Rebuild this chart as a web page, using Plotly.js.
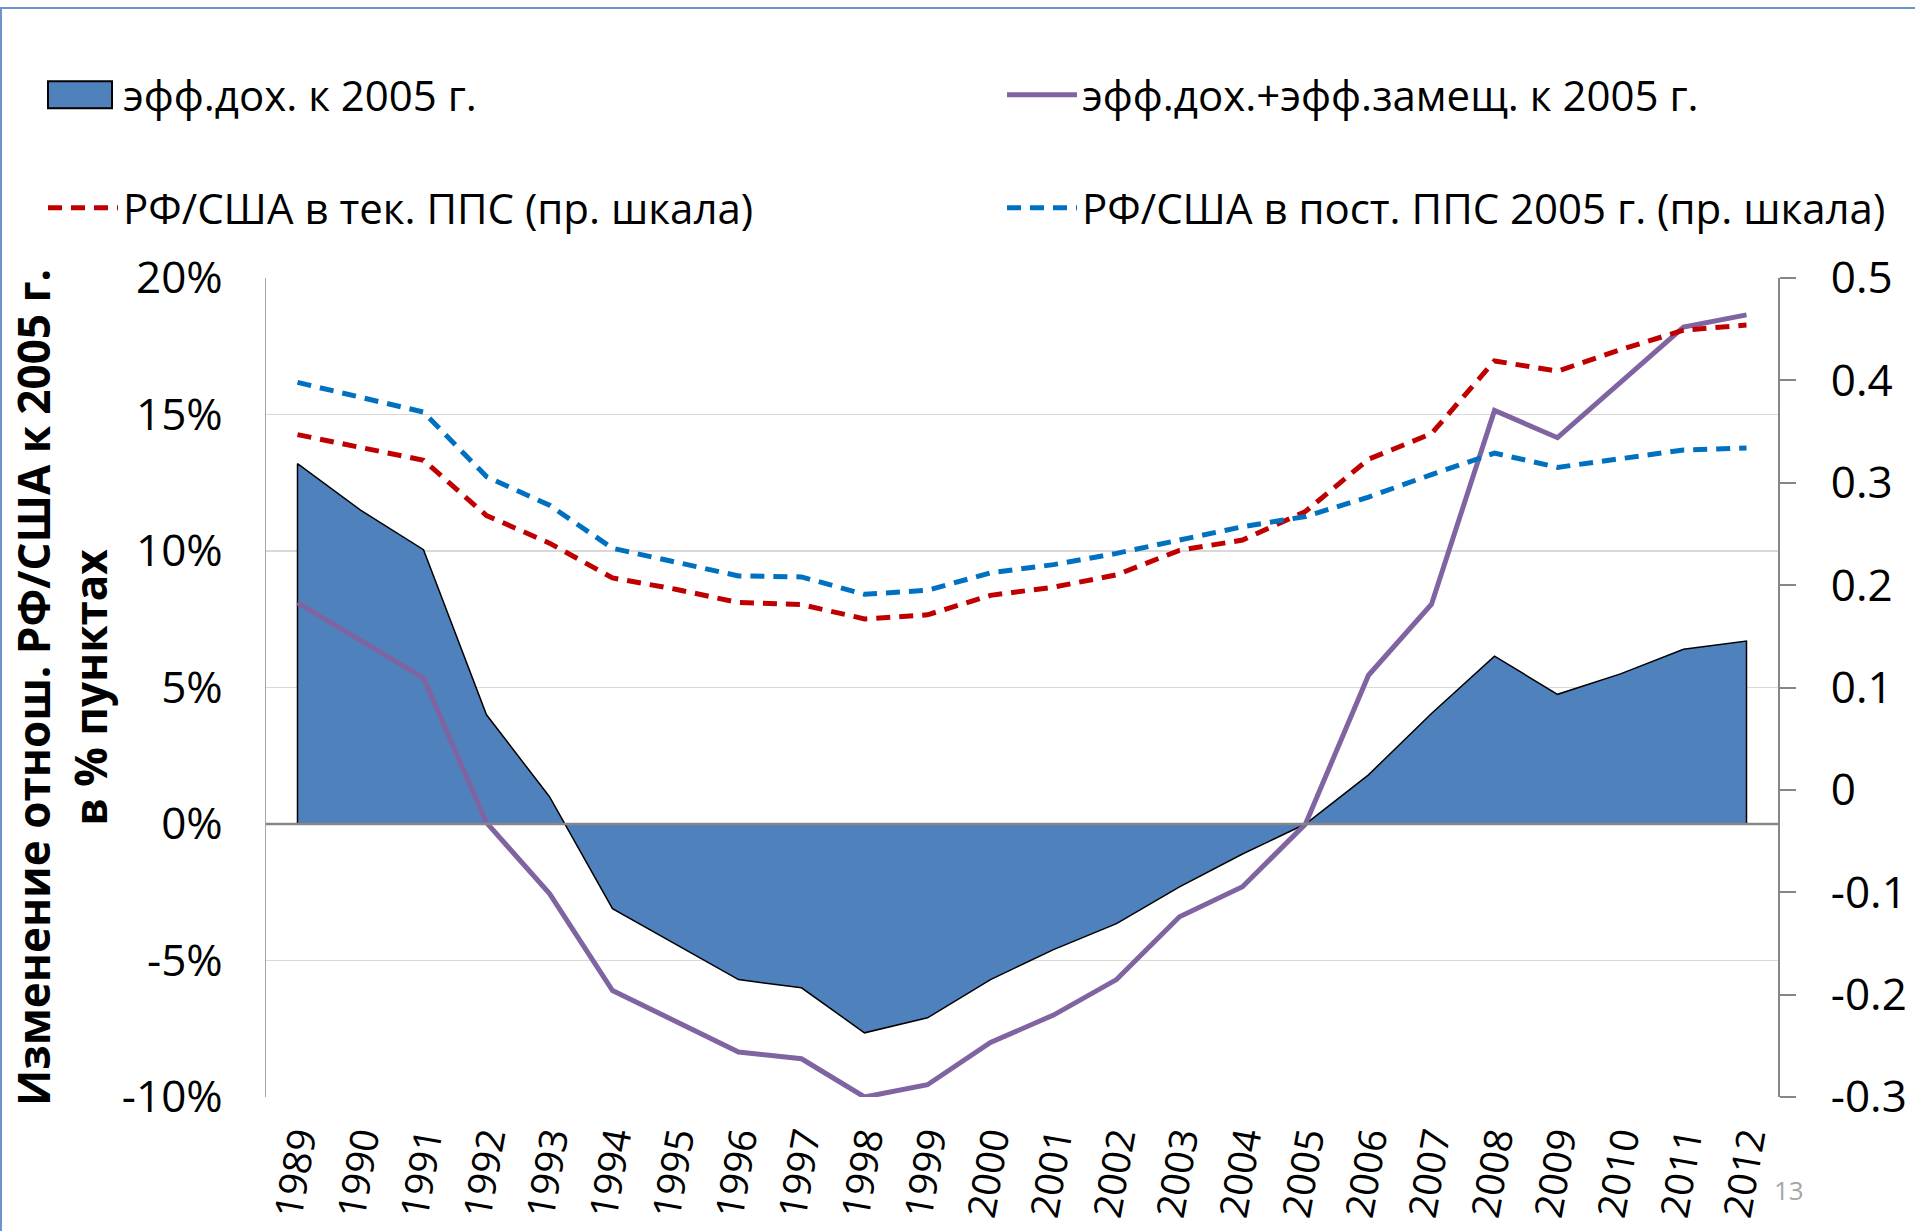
<!DOCTYPE html>
<html>
<head>
<meta charset="utf-8">
<script src="https://cdn.plot.ly/plotly-3.0.1.min.js"></script>
<style>
  html, body { margin: 0; padding: 0; background: #fff; overflow: hidden; }
  #wrap { position: relative; width: 1915px; height: 1231px; }
  #chart { position: absolute; left: 0; top: 0; width: 1915px; height: 1231px; }
  #frame { position: absolute; left: 0; top: 7px; width: 1915px; height: 1224px;
           border-top: 2px solid #6a95cc; border-left: 2px solid #6a95cc; box-sizing: border-box; pointer-events: none; }
</style>
</head>
<body>
<div id="wrap"><div id="chart"></div><div id="frame"></div></div>
<script>
// ---- data ----
const years = [1989, 1990, 1991, 1992, 1993, 1994, 1995, 1996, 1997, 1998, 1999, 2000,
               2001, 2002, 2003, 2004, 2005, 2006, 2007, 2008, 2009, 2010, 2011, 2012];
const yearLabels = years.map(String);

// эфф.дох. к 2005 г. (left axis, % points)
const incomeEffect = [13.2, 11.5, 10.05, 4.0, 1.0, -3.1, -4.4, -5.7, -6.0, -7.65, -7.1, -5.7,
                      -4.6, -3.65, -2.3, -1.1, 0.0, 1.8, 4.05, 6.15, 4.75, 5.5, 6.4, 6.7];
// эфф.дох.+эфф.замещ. к 2005 г. (left axis, % points)
const incomeSubstEffect = [8.1, 6.7, 5.35, 0.05, -2.55, -6.1, -7.2, -8.35, -8.6, -10.0, -9.55, -8.0,
                           -7.0, -5.7, -3.4, -2.3, 0.0, 5.45, 8.05, 15.15, 14.15, 16.2, 18.2, 18.65];
// РФ/США в тек. ППС (right axis)
const ruUsCurrentPPP = [0.347, 0.334, 0.322, 0.268, 0.241, 0.207, 0.196, 0.183, 0.181, 0.167, 0.171, 0.190,
                        0.198, 0.210, 0.234, 0.244, 0.272, 0.323, 0.348, 0.419, 0.409, 0.430, 0.449, 0.454];
// РФ/США в пост. ППС 2005 г. (right axis)
const ruUsConstPPP = [0.398, 0.384, 0.369, 0.306, 0.278, 0.236, 0.222, 0.209, 0.208, 0.191, 0.195, 0.212,
                      0.220, 0.231, 0.244, 0.257, 0.267, 0.286, 0.308, 0.329, 0.315, 0.323, 0.332, 0.334];

const leftTickVals = [-10, -5, 0, 5, 10, 15, 20];
const leftTickText = ['-10%', '-5%', '0%', '5%', '10%', '15%', '20%'];
const rightTickVals = [-0.3, -0.2, -0.1, 0, 0.1, 0.2, 0.3, 0.4, 0.5];
const rightTickText = ['-0.3', '-0.2', '-0.1', '0', '0.1', '0.2', '0.3', '0.4', '0.5'];

const seriesNames = ['эфф.дох. к 2005 г.', 'эфф.дох.+эфф.замещ. к 2005 г.',
                     'РФ/США в тек. ППС (пр. шкала)', 'РФ/США в пост. ППС 2005 г. (пр. шкала)'];

// ---- build traces ----
const FONT = 'Open Sans, Noto Sans, sans-serif';
const AREA_COLOR = '#4f81bd';
const first = years[0], last = years[years.length - 1];
const areaX = [first].concat(years, [last]);
const areaY = [0].concat(incomeEffect, [0]);

const traces = [
  { x: areaX, y: areaY, name: seriesNames[0], type: 'scatter', mode: 'lines',
    fill: 'toself', fillcolor: AREA_COLOR, line: { color: '#000000', width: 1.5 },
    legend: 'legend', hoverinfo: 'skip' },
  { x: years, y: incomeSubstEffect, name: seriesNames[1], type: 'scatter', mode: 'lines',
    line: { color: '#8064a2', width: 5 }, legend: 'legend2', hoverinfo: 'skip' },
  { x: years, y: ruUsCurrentPPP, name: seriesNames[2], type: 'scatter', mode: 'lines', yaxis: 'y2',
    line: { color: '#c00000', width: 5, dash: '14px,9px' }, legend: 'legend3', hoverinfo: 'skip' },
  { x: years, y: ruUsConstPPP, name: seriesNames[3], type: 'scatter', mode: 'lines', yaxis: 'y2',
    line: { color: '#0070c0', width: 5, dash: '14px,9px' }, legend: 'legend4', hoverinfo: 'skip' }
];

function legendAt(xpx, ypx) {
  return {
    orientation: 'h', xref: 'container', yref: 'container', xanchor: 'left', yanchor: 'middle',
    x: xpx / 1915, y: 1 - ypx / 1231,
    font: { family: FONT, size: 42, color: '#000' }, itemwidth: 70,
    bgcolor: 'rgba(0,0,0,0)', borderwidth: 0, traceorder: 'normal'
  };
}

const layout = {
  width: 1915, height: 1231,
  margin: { l: 266, r: 137, t: 278, b: 134, pad: 0 },
  paper_bgcolor: '#ffffff', plot_bgcolor: '#ffffff',
  font: { family: FONT, color: '#000' },
  showlegend: true,
  legend: legendAt(43, 95),
  legend2: legendAt(1002, 95),
  legend3: legendAt(43, 208),
  legend4: legendAt(1002, 208),
  xaxis: {
    type: 'linear', range: [first - 0.5, last + 0.5],
    tickmode: 'array', tickvals: years, ticktext: yearLabels,
    tickangle: -80, tickfont: { family: FONT, size: 39, color: '#000' },
    showgrid: false, zeroline: false, showline: false, ticks: '',
    ticklabelstandoff: 11, automargin: false
  },
  yaxis: {
    range: [-10, 20], tickmode: 'array', tickvals: leftTickVals, ticktext: leftTickText,
    tickfont: { family: FONT, size: 44, color: '#000' },
    showgrid: true, gridcolor: '#d9d9d9', gridwidth: 1.5,
    zeroline: false, showline: true, linecolor: '#a6a6a6', linewidth: 1.5, ticks: '',
    ticklabelstandoff: 33, automargin: false,
    title: { text: 'Изменение отнош. РФ/США к 2005 г.<br>в % пунктах',
             font: { family: FONT, size: 44, weight: 700, color: '#000' } }
  },
  yaxis2: {
    overlaying: 'y', side: 'right', range: [-0.3, 0.5],
    tickmode: 'array', tickvals: rightTickVals, ticktext: rightTickText,
    tickfont: { family: FONT, size: 44, color: '#000' },
    showgrid: false, zeroline: false, showline: true, linecolor: '#868686', linewidth: 2,
    ticks: 'outside', ticklen: 16, tickwidth: 2, tickcolor: '#868686',
    ticklabelstandoff: 26, automargin: false
  },
  shapes: [
    { type: 'line', xref: 'paper', x0: 0, x1: 1, yref: 'y', y0: 0, y1: 0,
      line: { color: '#868686', width: 2.5 }, layer: 'above' }
  ],
  annotations: [
    { text: '13', xref: 'paper', yref: 'paper', x: (1806 - 266) / 1512, y: (1097 - 1210) / 819,
      showarrow: false, font: { family: FONT, size: 26, color: '#a6a6a6' } }
  ]
};

Plotly.newPlot('chart', traces, layout, { staticPlot: true, displayModeBar: false }).then(function (gd) {
  // Draw the area series' legend key as a filled, outlined box (as in the reference).
  const legendGroup = gd.querySelector('g.legend');
  if (!legendGroup) return;
  const fillPath = legendGroup.querySelector('.legendfill path');
  const linePath = legendGroup.querySelector('.legendlines path');
  if (fillPath) {
    fillPath.setAttribute('d', 'M5,-13.5h64v27h-64z');
    fillPath.style.fill = AREA_COLOR;
    fillPath.style.fillOpacity = 1;
    fillPath.style.stroke = '#000';
    fillPath.style.strokeWidth = '2px';
  }
  if (linePath) linePath.style.display = 'none';
});
</script>
</body>
</html>
